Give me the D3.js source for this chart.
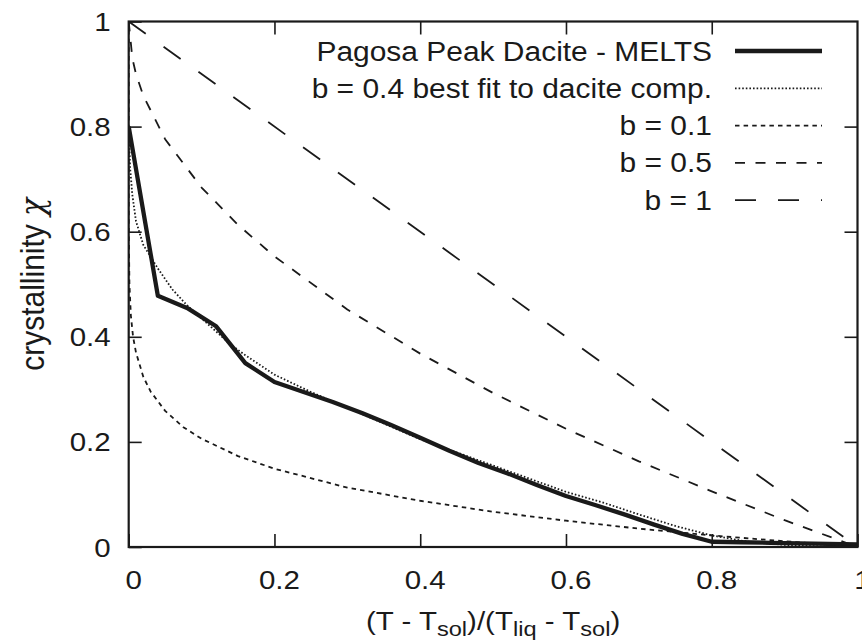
<!DOCTYPE html>
<html>
<head>
<meta charset="utf-8">
<script src="https://cdn.jsdelivr.net/npm/d3@7"></script>
<style>
  body { margin: 0; background: #fff; }
  svg { display: block; }
  text { font-family: "Liberation Sans", Arial, Helvetica, sans-serif; fill: #1a1a1a; }
</style>
</head>
<body>
<div id="chart"></div>
<script>
// ticks
const xTicks = [0, 0.2, 0.4, 0.6, 0.8, 1];
const yTicks = [0, 0.2, 0.4, 0.6, 0.8, 1];

// Pagosa Peak Dacite - MELTS
const meltsX = [0, 0.04, 0.08, 0.12, 0.16, 0.2, 0.24, 0.28, 0.32, 0.36, 0.4, 0.44, 0.48, 0.52, 0.56, 0.6, 0.64, 0.68, 0.72, 0.76, 0.8, 0.84, 0.88, 0.92, 0.96, 1];
const meltsY = [0.8, 0.478, 0.455, 0.42, 0.35, 0.314, 0.295, 0.276, 0.255, 0.232, 0.208, 0.183, 0.16, 0.14, 0.118, 0.097, 0.08, 0.062, 0.043, 0.025, 0.01, 0.009, 0.008, 0.007, 0.006, 0.005];

// b = 0.4 best fit to dacite comp.
const fitX = [0, 0.002, 0.005, 0.01, 0.02, 0.04, 0.06, 0.08, 0.1, 0.12, 0.14, 0.16, 0.2, 0.25, 0.3, 0.35, 0.4, 0.45, 0.5, 0.55, 0.6, 0.65, 0.7, 0.75, 0.8, 0.85, 0.9, 0.95, 1];
const fitY = [0.8, 0.72, 0.67, 0.62, 0.575, 0.53, 0.49, 0.46, 0.435, 0.41, 0.385, 0.365, 0.328, 0.295, 0.265, 0.235, 0.205, 0.18, 0.155, 0.13, 0.105, 0.085, 0.062, 0.04, 0.022, 0.01, 0.004, 0.001, 0];

// b = 0.1
const b01X = [0, 0.00001, 0.0001, 0.001, 0.003, 0.006, 0.01, 0.02, 0.03, 0.05, 0.075, 0.1, 0.15, 0.2, 0.3, 0.4, 0.5, 0.6, 0.7, 0.8, 0.9, 1];
const b01Y = [1, 0.68, 0.6, 0.5, 0.44, 0.4, 0.37, 0.324, 0.296, 0.259, 0.228, 0.206, 0.173, 0.149, 0.113, 0.088, 0.067, 0.05, 0.035, 0.022, 0.011, 0];

// b = 0.5
const b05X = [0, 0.005, 0.01, 0.02, 0.05, 0.1, 0.15, 0.2, 0.3, 0.4, 0.5, 0.6, 0.7, 0.8, 0.9, 1];
const b05Y = [1, 0.93, 0.9, 0.859, 0.776, 0.684, 0.613, 0.553, 0.452, 0.368, 0.293, 0.225, 0.163, 0.106, 0.051, 0];

// b = 1
const b1X = [0, 1];
const b1Y = [1, 0];

const series = [
  {name: "Pagosa Peak Dacite - MELTS", xs: meltsX, ys: meltsY, width: 4.3, dash: null},
  {name: "b = 0.4 best fit to dacite comp.", xs: fitX, ys: fitY, width: 1.8, dash: "1.6,2"},
  {name: "b = 0.1", xs: b01X, ys: b01Y, width: 1.8, dash: "4.5,4.1"},
  {name: "b = 0.5", xs: b05X, ys: b05Y, width: 1.8, dash: "10,10.5"},
  {name: "b = 1", xs: b1X, ys: b1Y, width: 1.8, dash: "21,22"}
];

const W = 862, H = 642;
const margin = {top: 21.5, right: 4.5, bottom: 95, left: 128.7};
const SX = 1.18; // text is a bit wider than tall in the picture

const svg = d3.select("#chart").append("svg")
  .attr("width", W).attr("height", H);

const x = d3.scaleLinear().domain([0, 1]).range([margin.left, W - margin.right]);
const y = d3.scaleLinear().domain([0, 1]).range([H - margin.bottom, margin.top]);

svg.append("clipPath").attr("id", "clip")
  .append("rect")
  .attr("x", x(0)).attr("y", y(1))
  .attr("width", x(1) - x(0)).attr("height", y(0) - y(1));

const line = d3.line().x(d => x(d[0])).y(d => y(d[1]));

const plot = svg.append("g").attr("clip-path", "url(#clip)");
for (let s of series) {
  let pts = s.xs.map((v, i) => [v, s.ys[i]]);
  plot.append("path")
    .attr("d", line(pts))
    .attr("fill", "none")
    .attr("stroke", "#1a1a1a")
    .attr("stroke-width", s.width)
    .attr("stroke-linejoin", "round")
    .attr("stroke-dasharray", s.dash);
}

// axes, ticks point inward on all four sides
const tickLen = 13;
function styleAxis(g) {
  g.select(".domain").remove();
  g.selectAll(".tick line").attr("stroke", "#1a1a1a").attr("stroke-width", 1.6);
}
svg.append("g")
  .attr("transform", "translate(0," + y(0) + ")")
  .call(d3.axisBottom(x).tickValues(xTicks).tickSize(-tickLen).tickFormat(d3.format("~g")))
  .call(styleAxis)
  .call(g => g.selectAll(".tick text")
    .attr("y", 0).attr("dy", 0)
    .attr("transform", "translate(4.5,42) scale(" + SX + ",1)")
    .attr("font-size", 25).attr("fill", "#1a1a1a"));

svg.append("g")
  .attr("transform", "translate(0," + y(1) + ")")
  .call(d3.axisTop(x).tickValues(xTicks.slice(1, -1)).tickSize(-tickLen).tickFormat(""))
  .call(styleAxis);

svg.append("g")
  .attr("transform", "translate(" + x(0) + ",0)")
  .call(d3.axisLeft(y).tickValues(yTicks).tickSize(-tickLen).tickFormat(d3.format("~g")))
  .call(styleAxis)
  .call(g => g.selectAll(".tick text")
    .attr("x", 0).attr("dy", 0)
    .attr("text-anchor", "end")
    .attr("transform", "translate(-18,9) scale(" + SX + ",1)")
    .attr("font-size", 25).attr("fill", "#1a1a1a"));

svg.append("g")
  .attr("transform", "translate(" + x(1) + ",0)")
  .call(d3.axisRight(y).tickValues(yTicks.slice(1, -1)).tickSize(-tickLen).tickFormat(""))
  .call(styleAxis);

// frame
svg.append("rect")
  .attr("x", x(0)).attr("y", y(1))
  .attr("width", x(1) - x(0)).attr("height", y(0) - y(1))
  .attr("fill", "none").attr("stroke", "#1a1a1a").attr("stroke-width", 2.2);

// legend
const legRight = 712, sampleX0 = 735, sampleX1 = 822;
const leg = svg.append("g");
series.forEach((s, i) => {
  let ly = 51 + i * 37.3;
  leg.append("text")
    .attr("text-anchor", "end")
    .attr("font-size", 28)
    .attr("transform", "translate(" + legRight + "," + (ly + 9.5) + ") scale(1.07,1)")
    .text(s.name);
  leg.append("line")
    .attr("x1", sampleX0).attr("x2", sampleX1)
    .attr("y1", ly).attr("y2", ly)
    .attr("stroke", "#1a1a1a")
    .attr("stroke-width", s.width)
    .attr("stroke-dasharray", s.dash);
});

// axis titles
const xt = svg.append("text")
  .attr("text-anchor", "middle")
  .attr("font-size", 25)
  .attr("transform", "translate(" + ((x(0) + x(1)) / 2) + ",629.5) scale(" + SX + ",1)");
xt.append("tspan").text("(T - T");
xt.append("tspan").attr("font-size", 20).attr("dy", 6).text("sol");
xt.append("tspan").attr("dy", -6).text(")/(T");
xt.append("tspan").attr("font-size", 20).attr("dy", 6).text("liq");
xt.append("tspan").attr("dy", -6).text(" - T");
xt.append("tspan").attr("font-size", 20).attr("dy", 6).text("sol");
xt.append("tspan").attr("dy", -6).text(")");

const yt = svg.append("text")
  .attr("text-anchor", "middle")
  .attr("font-size", 30)
  .attr("transform", "translate(44," + ((y(0) + y(1)) / 2) + ") rotate(-90) scale(1,1.1)");
yt.append("tspan").text("crystallinity ");
yt.append("tspan").attr("font-family", "DejaVu Serif, serif").attr("font-style", "italic").text("χ");
</script>
</body>
</html>
